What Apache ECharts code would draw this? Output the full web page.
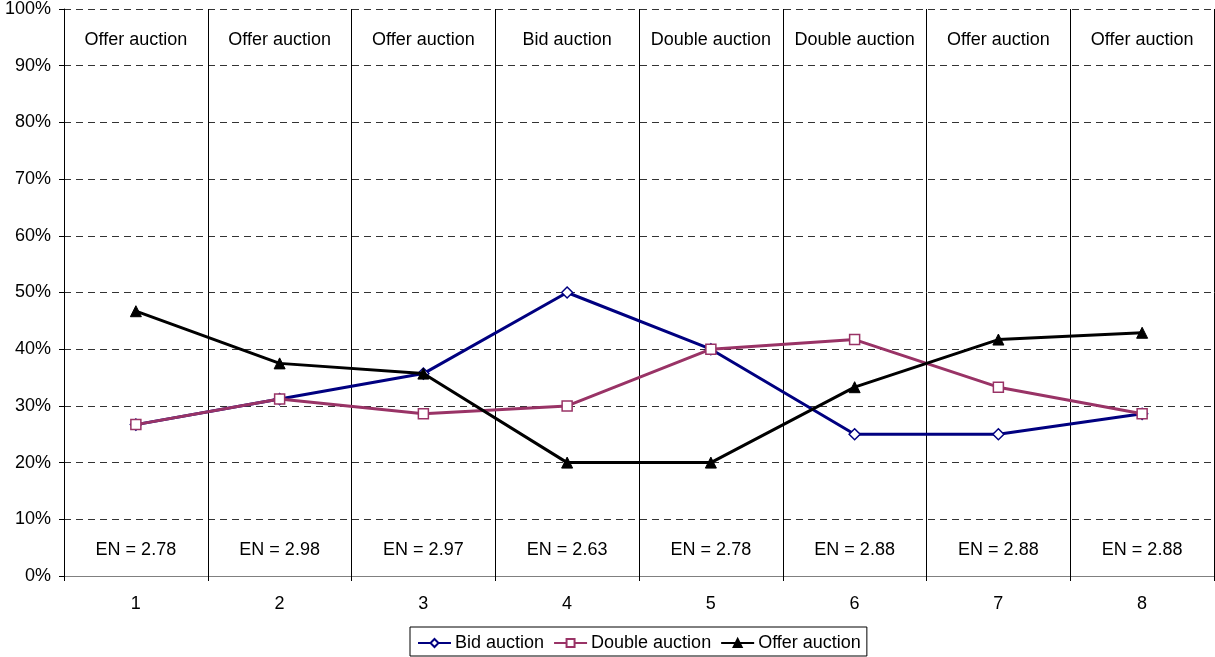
<!DOCTYPE html>
<html>
<head>
<meta charset="utf-8">
<script src="https://cdn.jsdelivr.net/npm/echarts@6/dist/echarts.min.js"></script>
<style>html,body{margin:0;padding:0;background:#fff;}#c{width:1215px;height:657px;}</style>
</head>
<body>
<div id="c"></div>
<script>
const categories = ['1','2','3','4','5','6','7','8'];
const bidAuction    = [26.7, 31.2, 35.7, 50.0, 40.0, 25.0, 25.0, 28.6];
const doubleAuction = [26.7, 31.2, 28.6, 30.0, 40.0, 41.7, 33.3, 28.6];
const offerAuction  = [46.7, 37.5, 35.7, 20.0, 20.0, 33.3, 41.7, 42.9];
const topLabels = ['Offer auction','Offer auction','Offer auction','Bid auction','Double auction','Double auction','Offer auction','Offer auction'];
const enValues = ['2.78','2.98','2.97','2.63','2.78','2.88','2.88','2.88'];
const yTicks = [0,10,20,30,40,50,60,70,80,90,100];

const FONT = 'Liberation Sans, Arial, sans-serif';
const FS = 18;
const chart = echarts.init(document.getElementById('c'));
chart.setOption({
  animation: false,
  backgroundColor: '#fff',
  textStyle: {fontFamily: FONT},
  grid: {left: 64, right: 1, top: 9, bottom: 81, containLabel: false},
  xAxis: {
    type: 'category',
    data: categories,
    boundaryGap: true,
    axisLine: {lineStyle: {color: '#808080', width: 1}},
    axisTick: {show: true, length: 5, lineStyle: {color: '#000'}},
    axisLabel: {color: '#000', fontSize: FS, fontFamily: FONT, margin: 19},
    splitLine: {show: true, lineStyle: {color: '#000', width: 1, type: 'solid'}}
  },
  yAxis: {
    type: 'value',
    min: 0, max: 100, interval: 10,
    axisLine: {show: true, lineStyle: {color: '#000', width: 1}},
    axisTick: {show: true, length: 5, lineStyle: {color: '#000'}},
    axisLabel: {color: '#000', fontSize: FS, fontFamily: FONT, margin: 13,
      formatter: v => yTicks.includes(v) ? v + '%' : ''},
    splitLine: {show: true, lineStyle: {color: '#333', width: 1, type: [7, 5]}}
  },
  legend: {
    bottom: 1,
    left: 410,
    data: ['Bid auction','Double auction','Offer auction'],
    borderColor: '#000', borderWidth: 1,
    padding: [7, 6, 4, 7],
    itemGap: 9,
    itemWidth: 33, itemHeight: 10,
    textStyle: {color: '#000', fontSize: FS, fontFamily: FONT, padding: [0,0,0,-1]}
  },
  series: [
    {
      name: 'Bid auction', type: 'line', data: bidAuction,
      symbol: 'diamond', symbolSize: 11, z: 3,
      lineStyle: {color: '#000080', width: 3},
      itemStyle: {color: '#fff', borderColor: '#000080', borderWidth: 1.5}
    },
    {
      name: 'Double auction', type: 'line', data: doubleAuction,
      symbol: 'rect', symbolSize: 10, z: 4,
      lineStyle: {color: '#993366', width: 3},
      itemStyle: {color: '#fff', borderColor: '#993366', borderWidth: 1.5}
    },
    {
      name: 'Offer auction', type: 'line', data: offerAuction,
      symbol: 'triangle', symbolSize: 11, z: 5,
      lineStyle: {color: '#000', width: 3},
      itemStyle: {color: '#000', borderColor: '#000', borderWidth: 1}
    },
    {
      type: 'scatter', silent: true, symbolSize: 0,
      itemStyle: {opacity: 1},
      data: topLabels.map((t, i) => ({value: [categories[i], 94.6], name: t})),
      label: {show: true, position: 'inside', formatter: p => p.name, color: '#000', fontSize: FS, fontFamily: FONT}
    },
    {
      type: 'scatter', silent: true, symbolSize: 0,
      itemStyle: {opacity: 1},
      data: enValues.map((t, i) => ({value: [categories[i], 4.6], name: 'EN = ' + t})),
      label: {show: true, position: 'inside', formatter: p => p.name, color: '#000', fontSize: FS, fontFamily: FONT}
    }
  ]
});
</script>
</body>
</html>
